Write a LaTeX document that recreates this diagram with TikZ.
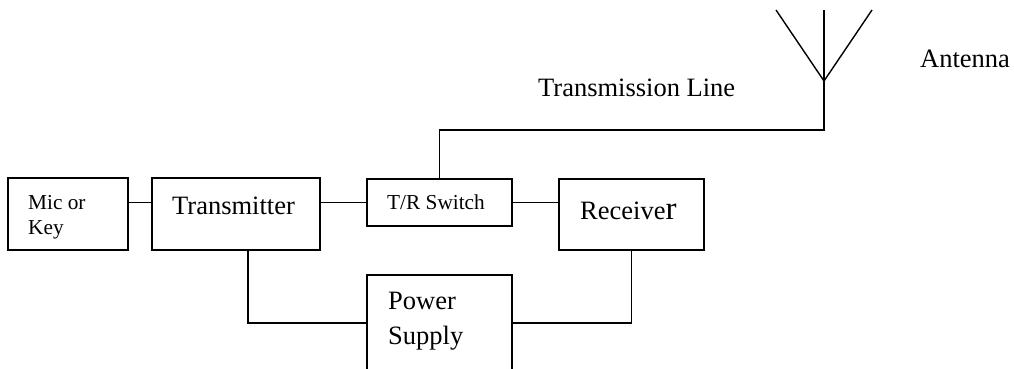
\documentclass[tikz,border=0pt]{standalone}
\usepackage{fontspec}
\setmainfont{Liberation Serif}
\usetikzlibrary{calc}
\begin{document}
\begin{tikzpicture}[x=1pt,y=-1pt,
  blk/.style={draw,line width=1.4pt,inner sep=0pt,outer sep=0pt},
  wire/.style={line width=1.4pt},
  big/.style={inner sep=0pt,anchor=base west,font=\fontsize{26.5}{34.7}\selectfont},
  small/.style={inner sep=0pt,anchor=base west,font=\fontsize{21.3}{25}\selectfont}]
\clip (0,0) rectangle (1014,369);
\useasboundingbox (0,0) rectangle (1014,369);
\fill[white] (0,0) rectangle (1014,369);
% boxes
\node[blk,minimum width=120pt,minimum height=72pt] (mic) at (68,214) {};
\node[blk,minimum width=168pt,minimum height=72pt] (tx) at (236,214) {};
\node[blk,minimum width=145pt,minimum height=47pt] (tr) at (439.5,202.5) {};
\node[blk,minimum width=145pt,minimum height=71pt] (rx) at (631.5,214.5) {};
\node[blk,minimum width=145pt,minimum height=96pt] (ps) at (439.5,323) {};
% texts
\node[small] (micl) at (28,209) {Mic or};
\node[small] (keyl) at (28,234) {Key};
\node[big] (txl) at (172,214) {Transmitter};
\node[small] (trl) at (387,209) {T/R Switch};
\node[big] (rxl) at (580,219) {Receive{\fontsize{33}{33}\selectfont r}};
\node[big] (psl1) at (388,309) {Power};
\node[big] (psl2) at (388,344) {Supply};
\node[big] (tll) at (538,96) {Transmission Line};
\node[big] (antl) at (920,67) {Antenna};
% antenna
\coordinate (feed) at (824,81);
\coordinate (mast) at (824,10);
\coordinate (armL) at (776,10);
\coordinate (armR) at (872,10);
\coordinate (tlbend) at (824,130);
\draw[wire] (feed) -- (mast);
\draw[wire] (armL) -- (feed) -- (armR);
% connectors
\draw[wire] (mic.north east |- tr.west) -- (tx.north west |- tr.west);
\draw[wire] (tx.east |- tr.west) -- (tr.west);
\draw[wire] (tr.east) -- (tr.east -| rx.west);
\draw[wire] (tr.north) |- (tlbend) -- (feed);
\draw[wire] ($(tx.south)+(12,0)$) |- (ps.west);
\draw[wire] (rx.south) |- (ps.east);
\end{tikzpicture}
\end{document}
